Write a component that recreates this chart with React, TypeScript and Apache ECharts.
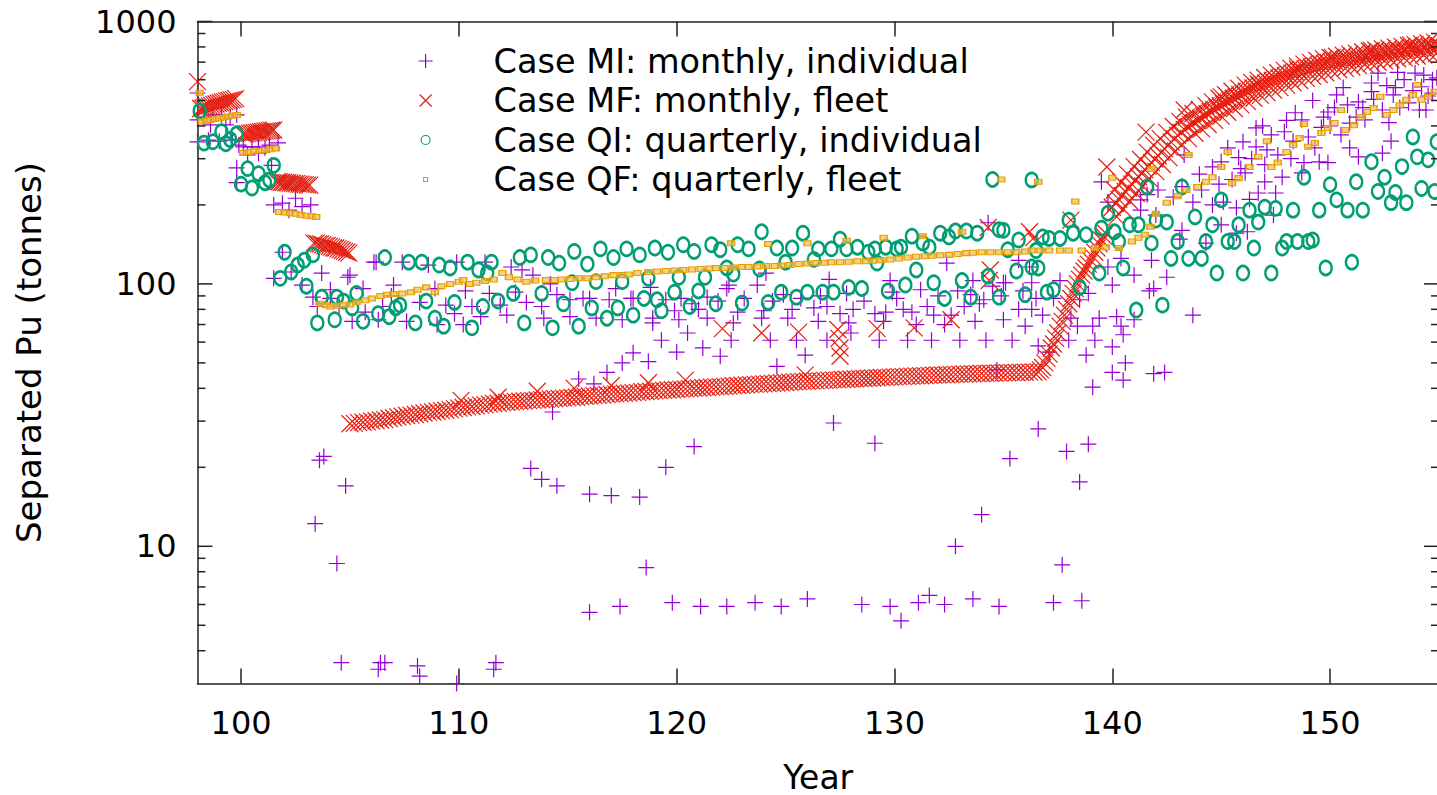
import React, { useEffect, useRef } from 'react';
import * as echarts from 'echarts';

const X_MIN = 98;
const X_MAX = 155;
const Y_MIN = 3;
const Y_MAX = 1000;
const xTicks = [100, 110, 120, 130, 140, 150];
const yMajor = [10, 100, 1000];
const yMinor = [4, 5, 6, 7, 8, 9, 20, 30, 40, 50, 60, 70, 80, 90, 200, 300, 400, 500, 600, 700, 800, 900];
const seriesNames = [
  'Case MI: monthly, individual',
  'Case MF: monthly, fleet',
  'Case QI: quarterly, individual',
  'Case QF: quarterly, fleet',
];

// Case MI: monthly, individual
const MI: [number, number][] = [
  [98.0,534],[98.0,422],[98.3,432],[98.7,441],[99.1,441],[99.5,432],[99.8,441],[98.6,404],[99.3,404],[98.0,348],[98.5,353],[99.0,350],[99.6,353],[99.9,338],[100.1,333],[100.5,333],[100.8,333],[101.1,330],[101.3,338],[101.7,345],[100.3,310],[100.8,315],[99.8,277],[101.4,283],[99.8,243],[101.5,200],[101.9,203],[102.2,191],[102.5,212],[102.8,197],[103.2,200],[101.9,132],[101.5,105],[102.3,111],[102.8,99],[103.7,110],[104.9,106],[105.0,108],[106.1,121],[103.3,89],[104.1,88],[104.1,95],[103.5,82],[104.5,82],[105.1,72],[106.3,73],
  [103.4,12.2],[103.6,21.3],[103.8,22],[104.4,8.6],[104.8,17],[104.6,3.6],[106.3,3.4],[106.4,3.6],[106.6,3.6],[108.1,3.5],[108.2,3.2],[109.9,3.0],[111.6,3.4],[111.7,3.6],[113.3,19.8],[113.8,18],[114.5,17],[114.3,32.5],[116.0,15.8],[117.0,15.6],[118.3,15.4],[116.0,5.6],[117.4,5.9],[118.6,8.3],[119.5,20],[120.8,24],[119.8,6.1],[121.1,5.9],[122.3,5.9],[123.6,6.1],[124.8,5.9],[126.0,6.3],[127.2,29.5],[129.1,24.7],[128.5,6.0],[129.8,5.9],[130.3,5.2],[131.1,6.1],[131.6,6.5],[132.3,6.0],[133.6,6.3],[134.8,5.9],[132.8,10],[134.0,13.2],[135.3,21.6],[136.6,28],[137.3,6.1],[138.6,6.2],[137.7,8.5],[137.9,23],[138.5,17.6],[138.9,24.5],
  [115.5,43.4],[116.2,41.6],[116.8,46],[117.5,50],[118.0,54.6],[118.7,50.6],[119.3,61],[120.0,55],[120.5,65],[121.2,57],[122.0,53],[122.5,61],[124.6,48.5],[125.9,53.5],[134.7,47],
  [106.2,121],[107.4,121],[108.6,118],[109.9,121],[111.2,121],[112.4,116],[112.9,113],[113.4,108],[108.2,85],[109.4,83],[110.6,82],[111.9,83],[111.4,92],[112.6,93],[113.1,85],[113.8,82],[107.6,72],[109.0,70],[110.2,70],[114.5,91],[115.7,88],[116.9,87],[118.0,88],[118.9,74],[115.1,75],[116.3,74],[117.5,73],[115.1,87],[116.0,88],[117.9,88],[118.8,97],[106.9,90],[105.6,96],[107.0,99],[113.9,74],[112.2,76],[105.7,78],[108.9,96],[110.3,94],[106.5,82],[109.8,77],[111.0,75],[114.2,100],[117.2,96],
  [119.5,87],[120.2,88],[121.4,89],[122.3,96],[122.4,99],[123.7,99],[123.9,74],[125.1,74],[126.3,81],[126.9,82],[127.5,77],[128.1,80],[129.1,77],[129.6,78],[130.4,80],[130.8,78],[131.5,82],[131.8,76],[132.6,76],[133.2,82],[133.9,84],[134.5,98],[135.1,101],[135.7,80],[136.3,80],[118.9,71],[120.1,73],[121.4,74],[122.6,71],[124.3,61],[125.5,61],[126.9,61],[128.0,65],[129.3,61],[130.6,61],[131.7,61],[133.0,61],[134.2,61],[135.4,61],[136.6,58],
  [120.7,84],[121.9,86],[123.1,88],[124.4,86],[124.9,91],[125.7,88],[126.6,90],[127.8,92],[128.6,86],[129.9,93],[130.1,88],[131.2,95],[132.0,90],[132.9,94],[133.5,91],[134.1,87],[134.9,90],[135.9,94],[136.5,88],[119.9,79],[121.0,80],[122.8,78],[124.0,79],[125.3,80],[126.5,72],[127.9,71],[129.5,72],[131.0,70],[132.3,70],[133.7,72],[135.0,73],[136.0,69],
  [132.4,120],[134.3,171],[136.2,116],[135.7,123],[133.6,103],[135.0,101],[136.3,101],[127.0,104],[129.8,103],[124.1,110],
  [139.1,40.4],[140.0,46],[140.5,43],[140.6,50],[141.9,45.5],[142.4,46],[143.7,76],[137.1,55],[138.8,53.5],[138.0,61],[139.2,61],[140.0,57.5],[136.8,76],[138.1,74],[138.4,69],[139.1,69],[139.4,74],[140.2,75],[140.4,69],[140.5,64],[141.0,73],[137.6,103],[138.5,87],[139.8,116],[140.0,99],[140.4,125],[141.0,108],[141.8,123],[141.9,96],[142.5,106],[141.7,94],[143.1,148],[143.2,160],[144.3,143],[145.0,168],[145.7,156],[146.2,158],[147.4,183],[137.3,88],[138.9,92],
  [139.5,245],[139.8,205],[141.3,209],[141.6,219],[142.1,228],[143.3,310],[144.1,228],[144.6,279],[145.0,292],[145.3,330],[145.8,303],[146.0,348],[146.6,393],[146.6,333],[147.1,324],[147.3,370],[147.6,310],[147.9,380],[148.4,449],[148.7,422],[148.8,290],[149.0,363],[149.5,292],[149.7,432],[149.9,452],[150.3,525],[150.5,370],[150.8,481],[151.2,432],[151.3,494],[151.6,422],[151.9,540],[152.2,636],[152.4,460],[152.7,412],[152.9,525],[153.4,600],[153.6,490],[153.9,636],[154.2,564],[154.4,460],[154.7,600],[151.3,305],[152.4,315],[149.9,290],[148.7,265],[147.8,255],[146.7,222],[146.1,265],[145.1,205],[145.7,195],[147.5,222],[144.6,200],[143.7,205],[143.2,235],[142.8,214],[142.0,183],[141.3,191],[151.9,583],[154.1,460],[154.7,533],[153.0,560],[150.6,560],[149.2,500],[148.0,420],[146.9,400],[154.3,625],[153.2,470],[150.0,400],[148.3,350],[145.5,250],[144.0,262],
  [144.9,240],[145.9,275],[146.4,300],[147.0,285],[148.2,300],[149.3,330],[149.6,395],[150.2,470],[150.9,410],[151.5,470],[152.0,505],[152.6,570],[153.1,640],[153.8,545],[154.5,520],[154.9,610],[152.8,350],[150.9,330],[146.3,210],[147.0,245],
];

// Case MF: monthly, fleet
const MF: [number, number][] = [
  [98.0,590],
  [98.15,466],[98.25,468],[98.35,471],[98.45,474],[98.55,476],[98.65,479],[98.75,482],[98.85,485],[98.95,488],[99.05,490],[99.15,493],[99.25,495],[99.35,498],[99.45,500],[99.55,503],[99.65,505],[99.75,508],
  [100.1,372],[100.2,373],[100.3,374],[100.4,375],[100.5,376],[100.6,377],[100.7,378],[100.8,379],[100.9,380],[101.0,381],[101.1,382],[101.2,383],[101.3,384],[101.4,385],[101.5,386],
  [101.65,245],[101.75,245],[101.85,244],[101.95,244],[102.05,243],[102.15,243],[102.25,242],[102.35,242],[102.45,241],[102.55,241],[102.65,240],[102.75,240],[102.85,239],[102.95,239],[103.05,238],[103.15,238],
  [103.35,143],[103.45,143],[103.55,142],[103.65,142],[103.75,141],[103.85,140],[103.95,140],[104.05,139],[104.15,138],[104.25,137],[104.35,137],[104.45,136],[104.55,135],[104.65,134],[104.75,133],[104.85,132],[104.95,131],
  [105.0,29.3],[105.2,29.4],[105.4,29.6],[105.6,29.7],[105.8,29.8],[106.0,30.0],[106.2,30.1],[106.4,30.3],[106.6,30.4],[106.8,30.7],[107.0,30.9],[107.2,31.1],[107.4,31.3],[107.6,31.5],[107.8,31.6],[108.0,31.8],[108.2,32.0],[108.4,32.2],[108.6,32.4],[108.8,32.5],[109.0,32.7],[109.2,32.9],[109.4,33.0],[109.6,33.2],[109.8,33.4],[110.0,33.6],[110.2,33.8],[110.4,34.0],[110.6,34.1],[110.8,34.3],[111.0,34.5],[111.2,34.6],[111.4,34.8],[111.6,35.0],[111.8,35.1],[112.0,35.3],[112.2,35.4],[112.4,35.5],[112.6,35.6],[112.8,35.7],[113.0,35.8],[113.2,35.9],[113.4,36.0],[113.6,36.1],[113.8,36.2],[114.0,36.3],[114.2,36.4],[114.4,36.5],[114.6,36.6],[114.8,36.7],[115.0,36.8],[115.2,36.9],[115.4,37.0],[115.6,37.2],[115.8,37.3],[116.0,37.4],[116.2,37.5],[116.4,37.6],[116.6,37.7],[116.8,37.9],[117.0,38.0],[117.2,38.1],[117.4,38.2],[117.6,38.3],[117.8,38.4],[118.0,38.5],[118.2,38.6],[118.4,38.8],[118.6,38.9],[118.8,39.0],[119.0,39.1],[119.2,39.2],[119.4,39.3],[119.6,39.4],[119.8,39.5],[120.0,39.6],[120.2,39.7],[120.4,39.8],[120.6,39.9],[120.8,40.0],[121.0,40.1],[121.2,40.2],[121.4,40.3],[121.6,40.4],[121.8,40.5],[122.0,40.6],[122.2,40.7],[122.4,40.8],[122.6,40.9],[122.8,41.0],[123.0,41.1],[123.2,41.2],[123.4,41.3],[123.6,41.4],[123.8,41.5],[124.0,41.6],[124.2,41.7],[124.4,41.8],[124.6,41.9],[124.8,42.0],[125.0,42.1],[125.2,42.2],[125.4,42.3],[125.6,42.4],[125.8,42.5],[126.0,42.55],[126.2,42.6],[126.4,42.7],[126.6,42.8],[126.8,42.9],[127.0,43.0],[127.2,43.05],[127.4,43.1],[127.6,43.2],[127.8,43.3],[128.0,43.4],[128.2,43.5],[128.4,43.55],[128.6,43.6],[128.8,43.7],[129.0,43.8],[129.2,43.9],[129.4,44.0],[129.6,44.05],[129.8,44.1],[130.0,44.2],[130.2,44.3],[130.4,44.35],[130.6,44.4],[130.8,44.5],[131.0,44.6],[131.2,44.65],[131.4,44.7],[131.6,44.8],[131.8,44.9],[132.0,44.95],[132.2,45.0],[132.4,45.05],[132.6,45.1],[132.8,45.2],[133.0,45.3],[133.2,45.35],[133.4,45.4],[133.6,45.45],[133.8,45.5],[134.0,45.55],[134.2,45.6],[134.4,45.65],[134.6,45.7],[134.8,45.75],[135.0,45.8],[135.2,45.85],[135.4,45.9],[135.6,45.95],[135.8,46.0],[136.0,46.05],[136.2,46.1],[136.4,46.15],[136.6,46.2],
  [136.7,47],[136.8,48],[136.9,50],[137.0,52],[137.1,54],[137.2,57],[137.3,59],[137.4,62],[137.5,65],[137.6,69],[137.7,72],[137.8,76],[137.9,80],[138.0,84],[138.1,88],[138.2,92],[138.3,96],[138.4,100],[138.5,104],[138.6,108],[138.7,112],[138.8,115],[138.9,119],[139.0,123],[139.1,127],[139.2,132],[139.3,137],[139.4,142],[139.5,147],[139.6,152],[139.7,156],
  [140.0,196],[140.15,203],[140.3,210],[140.45,217],[140.6,225],[140.75,232],[140.9,240],[141.05,248],[141.2,256],[141.35,264],[141.5,272],[141.65,281],[141.8,290],[141.95,299],[142.1,308],[142.25,317],[142.4,327],[142.55,337],[142.7,347],[142.85,357],[143.0,368],[143.15,378],[143.3,388],[143.45,396],[143.6,405],[143.75,412],[143.9,420],[144.05,428],[144.2,437],[144.35,445],[144.5,453],[144.65,461],[144.8,470],[144.95,478],[145.1,486],[145.25,494],[145.4,502],[145.55,510],[145.7,518],[145.85,526],[146.0,534],[146.15,542],[146.3,550],[146.45,558],[146.6,565],[146.75,570],[146.9,576],[147.05,583],[147.2,590],[147.35,596],[147.5,603],[147.65,610],[147.8,616],[147.95,622],[148.1,629],[148.25,636],[148.4,642],[148.55,648],[148.7,654],[148.85,660],[149.0,666],[149.15,671],[149.3,677],[149.45,682],[149.6,688],[149.75,693],[149.9,698],[150.05,702],[150.2,705],[150.35,709],[150.5,712],[150.65,715],[150.8,718],[150.95,722],[151.1,725],[151.25,729],[151.4,733],[151.55,737],[151.7,740],[151.85,744],[152.0,748],[152.15,751],[152.3,755],[152.45,759],[152.6,762],[152.75,765],[152.9,768],[153.05,771],[153.2,774],[153.35,777],[153.5,780],[153.65,783],[153.8,786],[153.95,789],[154.1,792],[154.25,795],[154.4,798],[154.55,801],[154.7,804],[154.85,807],[155.0,810],
  [140.1,228],[140.4,244],[140.7,262],[141.0,280],[141.3,298],[141.6,318],[141.9,338],[142.2,358],[142.5,378],[142.8,398],[143.1,416],[143.4,432],[143.7,446],[144.0,462],[144.3,478],[144.6,494],[144.9,510],[145.2,526],[145.5,542],[145.8,557],[146.1,572],[146.4,586],[146.7,598],[147.0,612],[147.3,625],[147.6,638],[147.9,651],[148.2,664],[148.5,676],[148.8,688],[149.1,699],[149.4,710],[149.7,720],[150.0,729],[150.3,737],[150.6,744],[150.9,751],[151.2,758],[151.5,765],[151.8,772],[152.1,779],[152.4,786],[152.7,792],[153.0,798],[153.3,804],[153.6,810],[153.9,816],[154.2,822],[154.5,828],[154.8,834],
  [140.2,180],[140.5,193],[140.8,207],[141.1,221],[141.4,236],[141.7,252],[142.0,268],[142.3,285],[142.6,303],[142.9,321],[143.2,340],[143.5,358],[143.8,375],[144.1,390],[144.4,405],[144.7,420],[145.0,436],[145.3,451],[145.6,466],[145.9,481],[146.2,496],[146.5,510],[146.8,523],[147.1,536],[147.4,548],[147.7,560],[148.0,572],[148.3,584],[148.6,596],[148.9,607],[149.2,618],[149.5,628],[149.8,638],[150.1,647],[150.4,655],[150.7,663],[151.0,671],[151.3,679],[151.6,687],[151.9,694],[152.2,701],[152.5,708],[152.8,715],[153.1,721],[153.4,727],[153.7,733],[154.0,739],[154.3,745],[154.6,751],[154.9,757],
  [110.1,36],[111.8,37],[113.6,39],[115.3,40],[117.0,41],[118.7,42],[120.4,43],[122.1,67.5],[123.9,65],[125.6,65.5],[125.9,45],[127.4,67],[127.45,62],[127.5,57],[127.5,53],[129.2,67.5],[130.9,68],[132.6,73],[134.3,164],[134.4,113],[134.35,103],[136.2,158],[136.4,150],[136.5,145],[138.1,175],[139.75,279],[141.55,379],[143.3,460],[145.0,516],[146.7,580],[148.5,660],[150.1,730],[151.9,775],[153.7,815],
];

// Case QI: quarterly, individual
const QI: [number, number][] = [
  [98.1,456],[98.3,344],[98.7,348],[99.1,380],[99.3,342],[99.8,373],[99.5,355],
  [100.0,240],[100.3,275],[100.5,232],[100.8,263],[101.1,243],[101.3,249],[101.5,283],
  [101.8,105],[102.0,132],[102.3,111],[102.6,118],[102.9,123],[103.3,129],
  [103.0,98],[103.5,71],[103.7,89],[104.3,73],[104.4,89],[104.7,86],[105.1,81],[105.3,92],[105.6,72],[106.3,77],[106.6,126],[106.8,75],[107.1,81],[107.3,83],[107.7,121],[108.0,71],[108.3,121],[108.5,86],[108.9,74],[109.1,118],[109.3,69],[109.6,115],[109.8,85],[110.4,121],[110.6,68],[110.9,113],[111.1,82],[111.3,110],[111.5,121],[111.8,86],[112.5,92],[112.8,126],[113.0,71],[113.3,129],[113.8,92],[114.1,126],[114.3,68],[114.6,120],[114.8,84],[115.2,101],[115.3,133],[115.5,69],[115.9,119],[116.1,81],[116.3,102],[116.5,136],[116.8,74],[117.1,126],[117.3,81],[117.5,102],[117.7,136],[118.0,76],[118.3,129],[118.5,88],[118.7,105],[119.0,137],[119.1,87],[119.3,79],[119.6,132],[119.9,93],[120.1,106],[120.3,141],[120.6,82],[120.8,133],[121.0,94],[121.3,106],[121.6,141],[121.8,84],[122.0,135],[122.3,115],[122.6,109],[122.8,141],[123.0,84.5],[123.3,136],[123.8,114],[123.9,158],[124.2,85],[124.6,137],[124.8,93],[125.0,121],[125.3,137],[125.5,89],[125.8,156],[126.0,93],[126.3,124],[126.5,136],[126.7,93],[127.1,136],[127.2,93],[127.5,148],[127.8,136],[127.9,97],[128.3,138],[128.5,96],[128.8,132],[129.1,136],[129.2,120],[129.6,138],[129.7,94],[130.1,136],[130.3,138],[130.5,99],[130.8,152],[131.0,113],[131.3,143],[131.6,138],[131.8,101],[132.1,156],[132.3,88],[132.5,151],[132.8,159],[133.1,103],[133.3,159],[133.5,89],[133.8,156],[134.3,107],[134.5,250],[134.8,89],[134.8,161],[135.0,160],[135.2,135],[135.6,112],[135.7,147],[136.0,91],[136.3,116],[136.3,249],[136.5,134],[136.6,115],[136.8,151],[137.0,93],[137.1,149],[137.3,95],[137.6,149],[138.0,175],[138.2,156],[138.5,97],[138.8,154],
  [139.4,110],[140.5,115],[141.1,79.5],[142.3,83],[139.5,163],[139.8,186],[140.1,158],[140.3,145],[140.8,168],[141.2,168],[141.6,234],[141.8,143],[142.0,175],[142.5,172],[142.7,125],[143.0,145],[143.2,234],[143.5,125],[143.8,180],[144.1,125],[144.3,145],[144.6,168],[144.8,110],[145.0,209],[145.3,145],[145.6,145],[145.8,168],[146.0,110],[146.3,191],[146.5,137],[146.7,172],[147.0,196],[147.3,110],[147.5,194],[147.8,137],[148.0,145],[148.3,191],[148.5,145],[148.8,255],[149.0,145],[149.2,147],[149.5,191],[149.8,115],[150.0,239],[150.3,209],[150.8,191],[151.0,121],[151.2,245],[151.5,191],[151.9,292],[152.2,225],[152.5,255],[152.8,204],[153.0,223],[153.3,280],[153.5,204],[153.8,363],[154.0,305],[154.2,231],[154.5,297],[154.8,225],[154.9,348],
];

// Case QF: quarterly, fleet
const QF: [number, number][] = [
  [98.1,535],
  [98.2,416],[98.4,419],[98.6,422],[98.8,425],[99.0,428],[99.2,431],[99.4,434],[99.6,437],[99.8,440],
  [100.1,316],[100.35,318],[100.6,320],[100.85,322],[101.1,324],[101.35,326],[101.6,328],
  [101.75,188],[102.0,187],[102.25,186],[102.5,185],[102.75,183],[103.0,182],[103.25,181],[103.45,180],
  [103.6,84],[103.9,83],[104.1,82],[104.4,82.5],[104.7,83],[105.0,83.5],[105.3,85],[105.7,86.6],[106.0,88],[106.4,90],[106.7,91],[107.0,91.5],[107.4,92],[107.8,93],[108.1,95],[108.5,97],[108.9,93],[109.2,98],[109.6,100],[110.0,102],[110.2,103.5],[110.5,100],[110.8,101],[111.2,102.5],[111.6,104],[112.0,110],[112.3,106],[112.7,104],[113.1,102],[113.5,103],[114.0,103.5],[114.4,103.5],[114.7,104],[115.1,104.5],[115.5,105],[115.9,105],[116.3,106],[116.7,107],[117.1,108],[117.5,108],[117.8,108.5],[118.2,110],[118.7,111],[119.1,111.5],[119.5,112],[119.9,112.5],[120.3,113],[120.7,113.5],[121.1,114],[121.5,114.5],[121.8,115],[122.2,115],[122.6,115.5],[123.0,116],[123.3,116],[123.7,116.5],[124.1,117],[124.5,117],[124.8,117.5],[125.2,118],[125.6,119],[126.0,119.5],[126.4,120],[126.8,120.5],[127.1,121],[127.5,121],[127.9,121.5],[128.3,122],[128.7,122],[129.0,122.5],[129.4,123],[129.8,124],[130.2,125],[130.6,126],[131.0,127],[131.4,127.5],[131.7,128],[132.1,128.5],[132.5,129],[132.9,130],[133.3,131],[133.6,131.5],[134.0,132],[134.4,132],[134.8,132],[135.2,132],[135.6,132],[136.0,133],[136.3,134],[136.7,134],[137.1,134],[137.6,134],[138.0,134],[138.6,134],[139.2,137],[139.7,138],[140.3,137],[140.9,145],[141.2,150],[141.5,154],[141.75,165],[142.0,185],
  [142.5,204],[143.0,216],[143.4,228],[143.9,234],[144.3,245],[144.6,255],[145.0,279],[145.5,242],[145.8,253],[146.3,279],[146.7,305],[147.3,279],[147.6,290],[148.0,318],[148.3,338],[148.6,360],[149.0,333],[149.3,344],[149.6,376],[149.9,393],[150.2,410],[150.7,386],[151.1,402],[151.4,432],[151.7,452],[152.0,468],[152.6,440],[152.9,460],[153.2,480],[153.5,503],[153.8,525],[154.2,503],[154.5,517],[154.8,540],
  [122.5,143],[124.2,142],[126.0,143],[127.8,146],[129.5,150],[131.3,152],[133.1,158],[134.9,250],[136.6,245],[138.3,206],[140.0,254],[141.8,274],[143.5,310],[145.3,318],[147.1,350],[148.8,407],[150.5,460],[152.3,517],[154.0,573],
];

// tick marks for the log axis: [x at left border, value, length in px]
const yTickMarks: [number, number, number][] = [
  ...yMajor.map((v) => [X_MIN, v, 15] as [number, number, number]),
  ...yMinor.map((v) => [X_MIN, v, 8] as [number, number, number]),
];

const FONT = 'DejaVu Sans';
const C_MI = '#9400D3';
const C_MF = '#E51E10';
const C_QI = '#009E73';
const C_QF = '#E69F00';

const PLUS = 'path://M0,5L10,5M5,0L5,10';
const CROSS = 'path://M0,0L10,10M10,0L0,10';
const ICON_PLUS = 'path://M0,0M14,14M0,7L14,7M7,0L7,14';
const ICON_CROSS = 'path://M0,0M14,14M1,1L13,13M13,1L1,13';
const ICON_CIRCLE = 'path://M0,0M14,14M11.5,7A4.5,4.5,0,1,1,2.5,7A4.5,4.5,0,1,1,11.5,7Z';
const ICON_SQUARE = 'path://M0,0M14,14M5,5L9,5L9,9L5,9Z';

export default function App() {
  const ref = useRef<HTMLDivElement>(null);
  useEffect(() => {
    if (!ref.current) return;
    const chart = echarts.init(ref.current, null, { renderer: 'svg' });
    const axisLine = { show: true, lineStyle: { color: '#222', width: 1.5 } };
    const tickStyle = { color: '#222', width: 1.5 };
    chart.setOption({
      animation: false,
      backgroundColor: '#fff',
      textStyle: { fontFamily: FONT },
      grid: { left: 197.5, right: -2, top: 21.5, bottom: 111.5, containLabel: false, outerBoundsMode: 'none' },
      legend: {
        orient: 'vertical',
        left: 413,
        top: 39,
        itemWidth: 14,
        itemHeight: 14,
        itemGap: 5.5,
        selectedMode: false,
        textStyle: { fontSize: 33.5, fontFamily: FONT, color: '#000', padding: [0, 0, 0, 56] },
        data: [
          { name: seriesNames[0], icon: ICON_PLUS, itemStyle: { color: 'rgba(0,0,0,0)', borderColor: C_MI, borderWidth: 1.2 } },
          { name: seriesNames[1], icon: ICON_CROSS, itemStyle: { color: 'rgba(0,0,0,0)', borderColor: C_MF, borderWidth: 1.2 } },
          { name: seriesNames[2], icon: ICON_CIRCLE, itemStyle: { color: 'rgba(0,0,0,0)', borderColor: C_QI, borderWidth: 1.2 } },
          { name: seriesNames[3], icon: ICON_SQUARE, itemStyle: { color: 'rgba(0,0,0,0)', borderColor: C_QF, borderWidth: 1.2 } },
        ],
      },
      xAxis: [
        {
          type: 'value', min: X_MIN, max: X_MAX, position: 'bottom',
          axisLine, splitLine: { show: false },
          axisTick: { show: true, inside: true, length: 15, lineStyle: tickStyle, customValues: xTicks },
          axisLabel: { show: true, fontSize: 32, fontFamily: FONT, color: '#000', margin: 23, customValues: xTicks },
          name: 'Year', nameLocation: 'middle', nameGap: 77,
          nameTextStyle: { fontSize: 33, lineHeight: 33, fontFamily: FONT, color: '#000' },
        },
        {
          type: 'value', min: X_MIN, max: X_MAX, position: 'top',
          axisLine, splitLine: { show: false },
          axisTick: { show: true, inside: true, length: 15, lineStyle: tickStyle, customValues: xTicks },
          axisLabel: { show: false },
        },
      ],
      yAxis: [
        {
          type: 'log', logBase: 10, min: Y_MIN, max: Y_MAX, position: 'left',
          axisLine, splitLine: { show: false }, minorTick: { show: false },
          axisTick: { show: false },
          axisLabel: {
            show: true, fontSize: 32, fontFamily: FONT, color: '#000', margin: 21, customValues: yMajor,
            formatter: (v: number) => String(Math.round(v)),
          },
          name: 'Separated Pu (tonnes)', nameLocation: 'middle', nameGap: 152,
          nameTextStyle: { fontSize: 34, fontFamily: FONT, color: '#000' },
        },
        {
          type: 'log', logBase: 10, min: Y_MIN, max: Y_MAX, position: 'right',
          axisLine, splitLine: { show: false },
          axisTick: { show: false },
          axisLabel: { show: false },
        },
      ],
      series: [
        {
          name: seriesNames[0], type: 'scatter', data: MI, symbol: PLUS, symbolSize: 16,
          itemStyle: { color: 'rgba(0,0,0,0)', borderColor: C_MI, borderWidth: 1.2, opacity: 1 },
          clip: true, silent: true,
        },
        {
          name: seriesNames[1], type: 'scatter', data: MF, symbol: CROSS, symbolSize: 17,
          itemStyle: { color: 'rgba(0,0,0,0)', borderColor: C_MF, borderWidth: 1.2, opacity: 1 },
          clip: true, silent: true,
        },
        {
          name: seriesNames[2], type: 'scatter', data: QI, symbol: 'circle', symbolSize: [12, 14],
          itemStyle: { color: 'rgba(0,0,0,0)', borderColor: C_QI, borderWidth: 2.5, opacity: 1 },
          clip: true, silent: true,
        },
        {
          name: seriesNames[3], type: 'scatter', data: QF, symbol: 'rect', symbolSize: [7, 5],
          itemStyle: { color: 'rgba(240,190,80,0.7)', borderColor: C_QF, borderWidth: 1.2, opacity: 1 },
          clip: true, silent: true,
        },
        {
          name: 'yTicks', type: 'custom', data: yTickMarks, silent: true, clip: false, z: 5,
          renderItem: (_params: any, api: any) => {
            const v = api.value(1);
            const len = api.value(2);
            const pL = api.coord([X_MIN, v]);
            const pR = api.coord([X_MAX, v]);
            return {
              type: 'group',
              children: [
                { type: 'line', shape: { x1: pL[0], y1: pL[1], x2: pL[0] + len, y2: pL[1] }, style: { stroke: '#222', lineWidth: 1.5 } },
                { type: 'line', shape: { x1: pR[0], y1: pR[1], x2: pR[0] - len, y2: pR[1] }, style: { stroke: '#222', lineWidth: 1.5 } },
              ],
            };
          },
        },
      ],
    });
    return () => chart.dispose();
  }, []);
  return (
    <div
      ref={ref}
      style={{ position: 'fixed', left: 0, top: 0, width: 1437, height: 795, background: '#fff' }}
    />
  );
}
